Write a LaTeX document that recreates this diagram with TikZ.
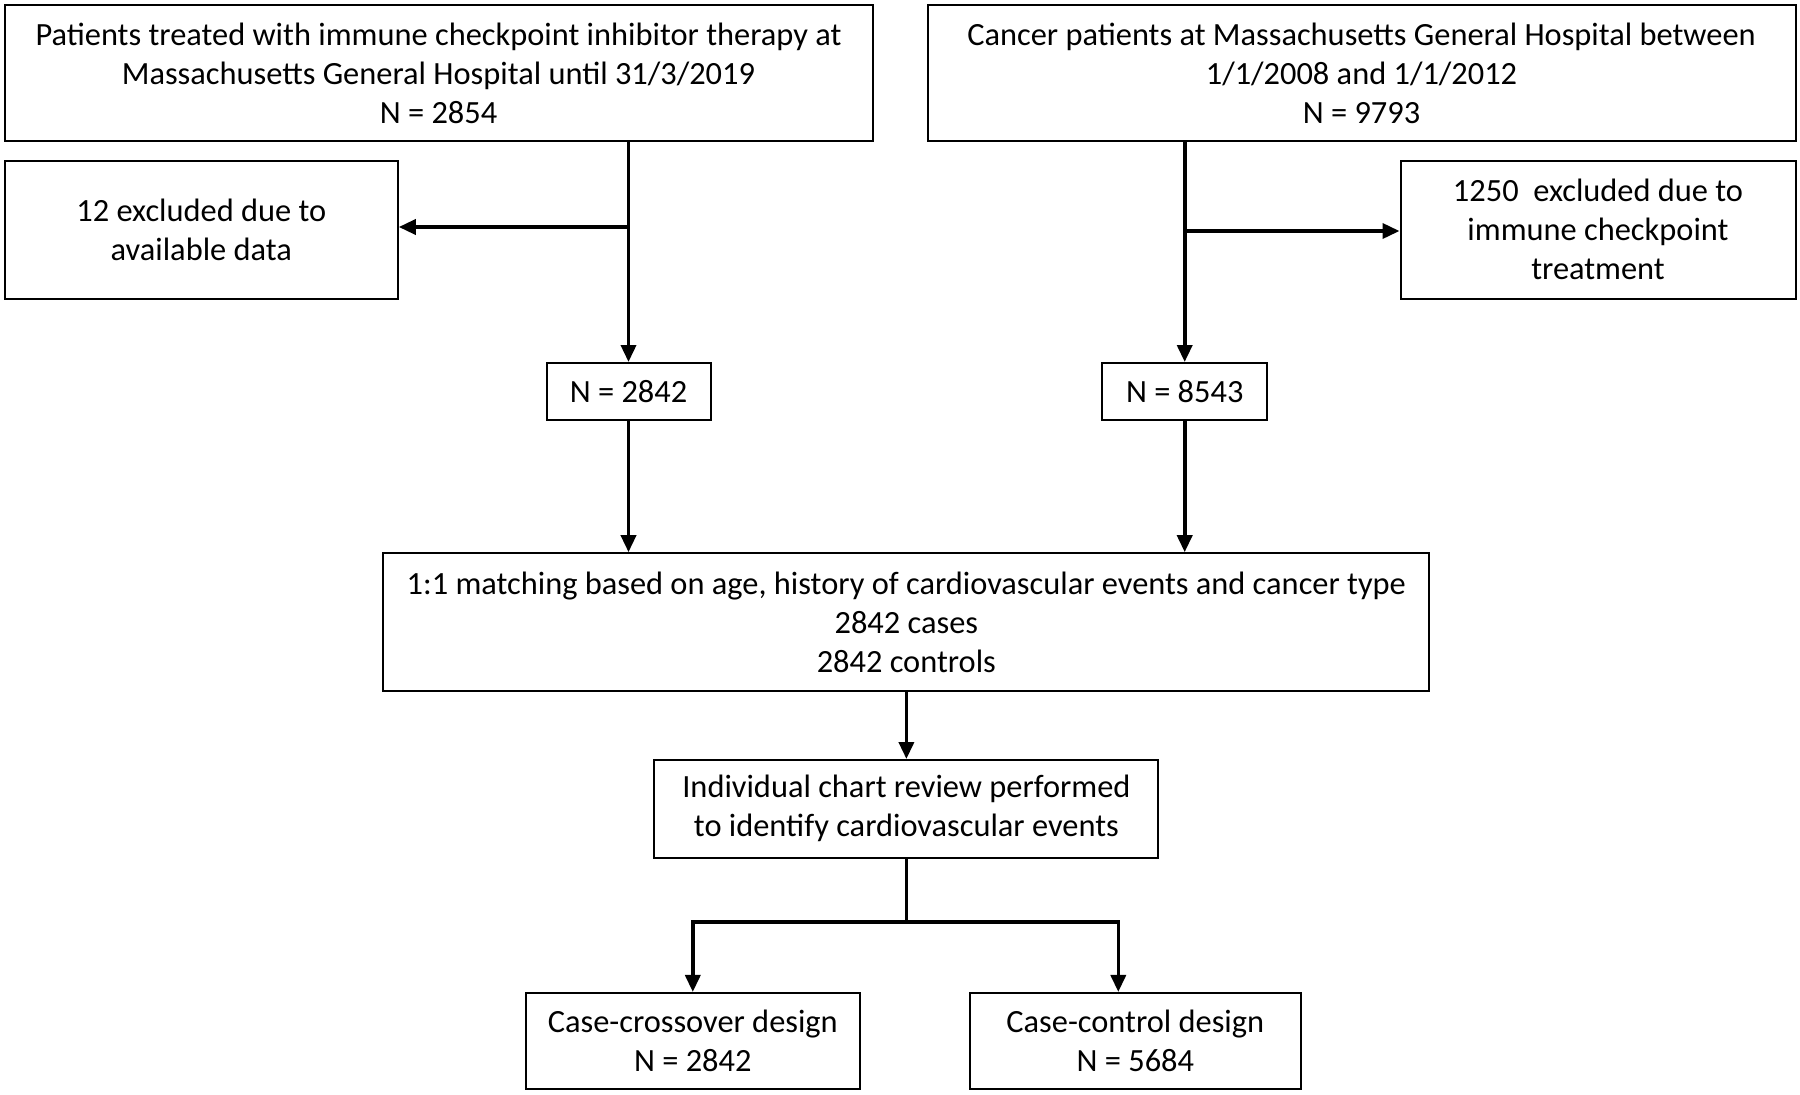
\documentclass[tikz,border=0pt]{standalone}
\usepackage{fontspec}
\setmainfont{Carlito}
\usetikzlibrary{arrows.meta}
\begin{document}
\begin{tikzpicture}[x=1pt,y=-1pt,
  box/.style={draw=black, line width=2pt, rectangle, align=center, inner sep=0pt,
    font=\fontsize{32.4}{39}\selectfont},
  conn/.style={line width=3.6pt, -{Triangle[length=17pt,width=15pt]}},
  plain/.style={line width=3.6pt}]
\useasboundingbox (0,0) rectangle (1800,1095);
\node[box, minimum width=868pt, minimum height=136pt] (a) at (438.5,73) {Patients treated with immune checkpoint inhibitor therapy at\\Massachusetts General Hospital until 31/3/2019\\N = 2854};
\node[box, minimum width=868pt, minimum height=136pt] (b) at (1361.5,73) {Cancer patients at Massachusetts General Hospital between\\1/1/2008 and 1/1/2012\\N = 9793};
\node[box, minimum width=393pt, minimum height=138pt] (ea) at (201.3,229.6) {12 excluded due to\\available data};
\node[box, minimum width=395pt, minimum height=138pt] (eb) at (1598,229.6) {1250\ \ excluded due to\\immune checkpoint\\treatment};
\node[box, minimum width=164pt, minimum height=57pt] (na) at (628.5,391.5) {N = 2842};
\node[box, minimum width=165pt, minimum height=57pt] (nb) at (1184.7,391.5) {N = 8543};
\node[box, minimum width=1046pt, minimum height=138pt] (m) at (906.3,622.2) {1:1 matching based on age, history of cardiovascular events and cancer type\\2842 cases\\2842 controls};
\node[box, minimum width=504pt, minimum height=97.6pt] (r) at (906.4,808.8) {Individual chart review performed\\to identify cardiovascular events};
\node[box, minimum width=334pt, minimum height=96.5pt] (cx) at (692.8,1041.2) {Case-crossover design\\N = 2842};
\node[box, minimum width=331pt, minimum height=96.5pt] (cc) at (1135.3,1041.2) {Case-control design\\N = 5684};
\coordinate (ja) at (na.north |- 0,227);
\coordinate (jb) at (nb.north |- 0,231);
\coordinate (ccin) at ([xshift=-17pt]cc.north);
\coordinate (split) at (r.south |- 0,922);
\draw[conn] (na.north |- a.south) -- (na.north);
\draw[conn] (ja) -- (ja -| ea.east);
\draw[conn] (nb.north |- b.south) -- (nb.north);
\draw[conn] (jb) -- (jb -| eb.west);
\draw[conn] (na.south) -- (na.south |- m.north);
\draw[conn] (nb.south) -- (nb.south |- m.north);
\draw[conn] (r.north |- m.south) -- (r.north);
\draw[plain] (r.south) -- (split);
\draw[conn] (split) -| (cx.north);
\draw[conn] (split) -| (ccin);
\end{tikzpicture}
\end{document}
